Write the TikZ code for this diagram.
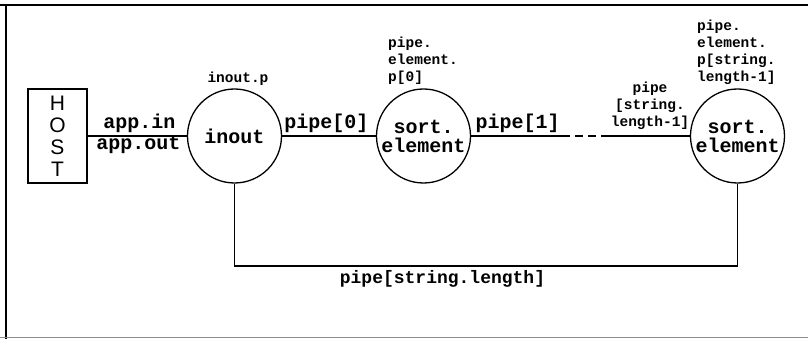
\documentclass[tikz,border=0pt]{standalone}
\usepackage{fontspec}
\newfontfamily\monof{Liberation Mono}
\newfontfamily\hsans{Liberation Sans}
\begin{document}
\begin{tikzpicture}[x=1pt,y=-1pt,
  big/.style={font=\monof\bfseries\fontsize{20}{19}\selectfont, inner sep=0},
  mid/.style={font=\monof\bfseries\fontsize{18}{19}\selectfont, inner sep=0},
  small/.style={font=\monof\bfseries\fontsize{14.5}{17}\selectfont, inner sep=0},
  proc/.style={circle, draw, line width=1.3pt, minimum size=94pt, inner sep=0, big, align=center},
  wire/.style={line width=1.2pt},
  frameline/.style={line width=1.6pt}]
\useasboundingbox (0,0) rectangle (808,339);
% frame
\draw[frameline] (0,5) -- (808,5);
\draw[frameline] (6,5) -- (6,339);
\draw[line width=1pt, black!45] (0,337.5) -- (808,337.5);
% nodes
\node[draw, line width=1.3pt, minimum width=59pt, minimum height=94pt, inner sep=0,
      font=\hsans\fontsize{21}{22}\selectfont, align=center] (host) at (57.5,136) {H\\O\\S\\T};
\node[proc] (inout) at (234.5,136) {inout};
\node[proc] (sort1) at (423.5,136) {sort.\\element};
\node[proc] (sort2) at (737.5,136) {sort.\\element};
\coordinate (d1) at (562,136);
\coordinate (d2) at (605,136);
\coordinate (lp) at (0,266);
% connectors
\draw[wire] (host.east) -- (inout.west);
\draw[wire] (inout.east) -- (sort1.west);
\draw[wire] (sort1.east) -- (d1);
\draw[wire, dash pattern=on 8pt off 5pt] (d1) -- (d2);
\draw[wire] (d2) -- (sort2.west);
\draw[line width=1.5pt] (inout.south) -- (inout.south |- lp) -| (sort2.south);
% labels
\node[big, anchor=base] (appin) at (139.5,129) {app.in};
\node[big, anchor=base] (appout) at (138.5,150) {app.out};
\node[big, anchor=base] (p0) at (326.5,129) {pipe[0]};
\node[big, anchor=base] (p1) at (517.5,129) {pipe[1]};
\node[small, anchor=base] (iop) at (238,83) {inout.p};
\node[small, anchor=north west, align=left] (pe0) at (388,37) {pipe.\\element.\\p[0]};
\node[small, anchor=north west, align=left] (pen) at (697,20) {pipe.\\element.\\p[string.\\length-1]};
\node[small, anchor=north, align=center] (pn) at (650,82) {pipe\\{}[string.\\length-1]};
\node[mid, anchor=base] (plen) at (442.5,283) {pipe[string.length]};
\end{tikzpicture}
\end{document}
